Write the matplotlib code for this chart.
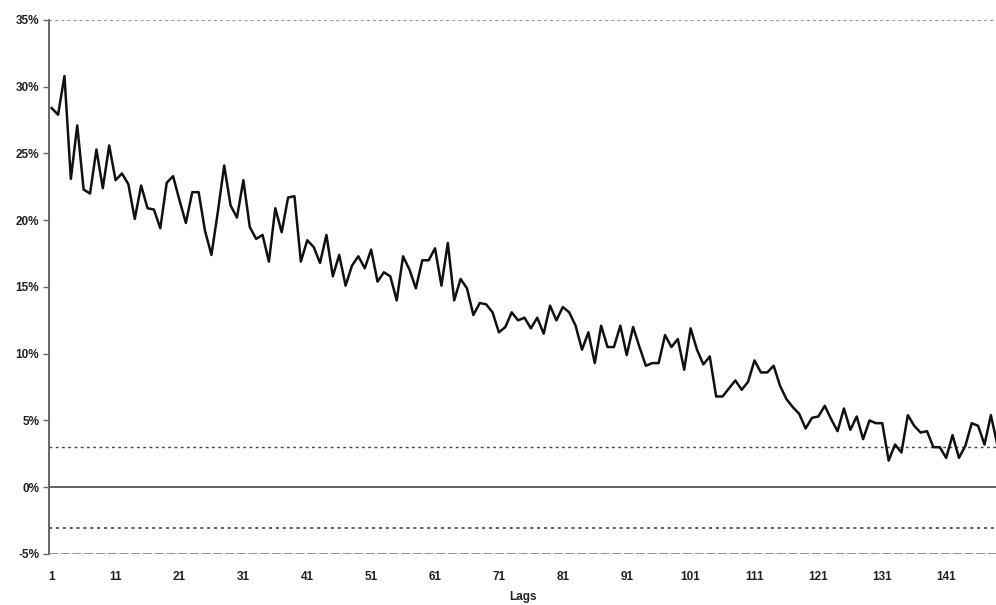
import matplotlib
matplotlib.use("Agg")
import matplotlib.pyplot as plt
from matplotlib.ticker import FuncFormatter

plt.rcParams['font.family'] = ['Liberation Sans', 'DejaVu Sans']

# autocorrelation by lag, in percent
lags = list(range(1, 150))
acf = [
    28.4, 27.9, 30.8, 23.1, 27.1, 22.3, 22.0, 25.3, 22.4, 25.6,
    23.0, 23.5, 22.7, 20.1, 22.6, 20.9, 20.8, 19.4, 22.8, 23.3,
    21.5, 19.8, 22.1, 22.1, 19.2, 17.4, 20.6, 24.1, 21.1, 20.2,
    23.0, 19.5, 18.6, 18.9, 16.9, 20.9, 19.1, 21.7, 21.8, 16.9,
    18.5, 18.0, 16.8, 18.9, 15.8, 17.4, 15.1, 16.6, 17.3, 16.4,
    17.8, 15.4, 16.1, 15.8, 14.0, 17.3, 16.3, 14.9, 17.0, 17.0,
    17.9, 15.1, 18.3, 14.0, 15.6, 14.9, 12.9, 13.8, 13.7, 13.1,
    11.6, 12.0, 13.1, 12.5, 12.7, 11.9, 12.7, 11.5, 13.6, 12.5,
    13.5, 13.1, 12.1, 10.3, 11.6, 9.3, 12.1, 10.5, 10.5, 12.1,
    9.9, 12.0, 10.5, 9.1, 9.3, 9.3, 11.4, 10.5, 11.1, 8.8,
    11.9, 10.3, 9.2, 9.8, 6.8, 6.8, 7.4, 8.0, 7.3, 7.9,
    9.5, 8.6, 8.6, 9.1, 7.6, 6.6, 6.0, 5.5, 4.4, 5.2,
    5.3, 6.1, 5.1, 4.2, 5.9, 4.3, 5.3, 3.6, 5.0, 4.8,
    4.8, 2.0, 3.2, 2.6, 5.4, 4.6, 4.1, 4.2, 3.0, 3.0,
    2.2, 3.9, 2.2, 3.1, 4.8, 4.6, 3.2, 5.4, 3.2,
]
conf_band = 3.05
x_ticks = list(range(1, 150, 10))
y_ticks = list(range(-5, 36, 5))

fig = plt.figure(figsize=(9.96, 6.05), dpi=100)
ax = fig.add_axes([0.0492, 0.0843, 0.9508, 0.8827])

ax.axhline(35, color='#777777', linestyle=(0, (2, 2)), linewidth=1.1)
ax.axhline(-5, color='#8a8a8a', linestyle=(0, (5, 1.5)), linewidth=1.3)
ax.axhline(0, color='#555555', linewidth=1.3)
ax.axhline(conf_band, color='#444444', linestyle=(0, (2, 2.5)), linewidth=1)
ax.axhline(-conf_band, color='#333333', linestyle=(0, (2, 2.5)), linewidth=1.1)

ax.plot(lags, acf, color='#111111', linewidth=1.8)

ax.set_xlim(0.58, 148.8)
ax.set_ylim(-5, 35)
ax.set_xticks(x_ticks)
ax.set_yticks(y_ticks)
ax.yaxis.set_major_formatter(FuncFormatter(lambda v, p: '%d%%' % v))

for s in ['top', 'right', 'bottom']:
    ax.spines[s].set_visible(False)
ax.spines['left'].set_color('#666666')
ax.spines['left'].set_linewidth(1.4)

ax.tick_params(axis='x', length=0, pad=12, labelsize=8.5, colors='#222222')
ax.tick_params(axis='y', length=4, width=1, color='#666666', pad=3,
               labelsize=8.5, labelcolor='#222222')
for lab in ax.get_xticklabels() + ax.get_yticklabels():
    lab.set_fontweight('bold')

ax.set_xlabel('Lags', fontsize=8.5, fontweight='bold', labelpad=6, color='#222222')

fig.savefig('out.png', dpi=100)
